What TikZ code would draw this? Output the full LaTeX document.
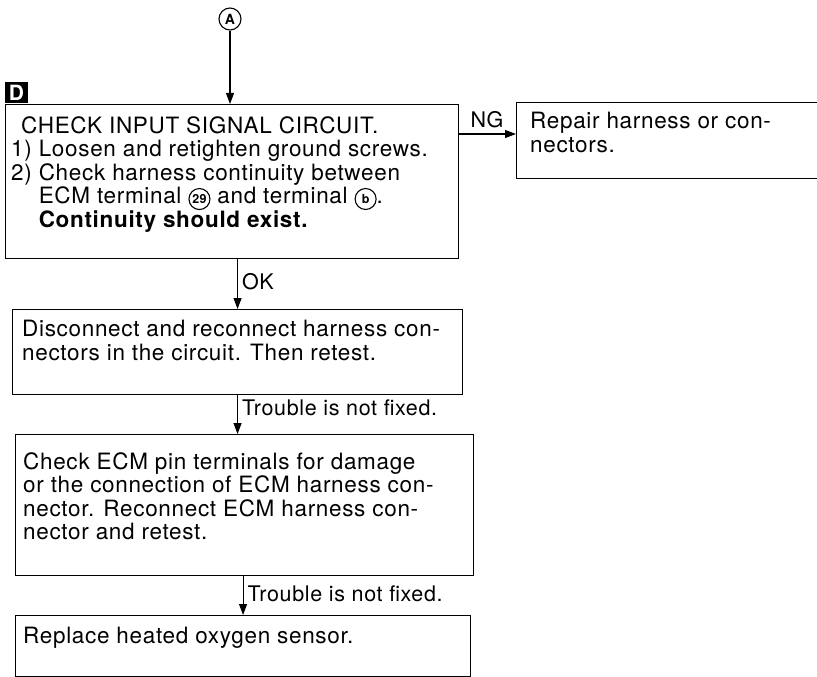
\documentclass[tikz,border=0pt]{standalone}
\usepackage{fontspec}
\setmainfont{TeX Gyre Heros}[LetterSpace=3]
\usetikzlibrary{arrows.meta,positioning}
\tikzset{
    every node/.append style={align=left},
    box/.style={rectangle,draw=black,line width=1.1pt,anchor=north west,inner sep=0pt},
    txt/.style={font=\fontsize{22.5}{23.5}\selectfont,inner sep=0pt},
    arr/.style={-{Triangle[length=11pt,width=8pt]},line width=1.1pt},
    lbl/.style={font=\fontsize{21.5}{23}\selectfont,inner sep=0pt,anchor=west,xshift=4pt},
    badge/.style={fill=black,text=white,minimum width=23pt,minimum height=21pt,inner sep=0pt,
        font=\fontsize{21}{21}\selectfont\bfseries},
    ring/.style={circle,draw,line width=1.1pt,inner sep=0pt,font=\fontsize{14}{14}\selectfont\bfseries}
}
\newcommand{\cnum}[1]{\tikz[baseline=(cn.base)]\node[ring,minimum size=21pt,font=\fontsize{12.5}{12.5}\selectfont\bfseries] (cn) {#1};}

\begin{document}
\begin{tikzpicture}[x=1pt,y=-1pt]
    \useasboundingbox (0,0) rectangle (817,677);

    \node[ring,minimum size=22pt] (A) at (230,19) {A};
    \node[badge] (D) at (16.5,92.5) {D};

    % boxes
    \node[box,minimum width=453pt,minimum height=154pt] (chk) at (5,104) {};
    \node[box,minimum width=320pt,minimum height=76pt] (fix) at (516,102) {};
    \node[box,minimum width=450pt,minimum height=85pt] (recon) at (12,309) {};
    \node[box,minimum width=458pt,minimum height=141pt] (ecm) at (15,434) {};
    \node[box,minimum width=455pt,minimum height=61pt] (sensor) at (15,615) {};

    % texts
    \node[txt,below right=12pt and 6pt of chk.north west] (chktxt)
        {\hspace*{10pt}CHECK INPUT SIGNAL CIRCUIT.\\
         1) Loosen and retighten ground screws.\\
         2) Check harness continuity between\\
         \phantom{2) }ECM terminal \cnum{29} and terminal \cnum{b}.\\
         \phantom{2) }\textbf{Continuity should exist.}};
    \node[txt,below right=10pt and 14pt of fix.north west] (fixtxt)
        {Repair harness or con-\\nectors.};
    \node[txt,below right=11pt and 10pt of recon.north west] (recontxt)
        {Disconnect and reconnect harness con-\\nectors in the circuit. Then retest.};
    \node[txt,below right=18pt and 8pt of ecm.north west] (ecmtxt)
        {Check ECM pin terminals for damage\\
         or the connection of ECM harness con-\\
         nector. Reconnect ECM harness con-\\
         nector and retest.};
    \node[txt,below right=12pt and 8pt of sensor.north west] (sensortxt)
        {Replace heated oxygen sensor.};

    % connectors
    \draw[arr] (A) -- (A |- chk.north);
    \draw[arr] ([yshift=-30pt]chk.north east) -- node[lbl,pos=0.42,anchor=south,xshift=0pt,yshift=6pt] (ng) {NG}
        ([yshift=-30pt]chk.north east -| fix.west);
    \draw[arr] (recon.north |- chk.south) -- node[lbl,pos=0.45] (ok) {OK} (recon.north);
    \draw[arr] (recon.south) -- node[lbl,pos=0.33] (nf1) {Trouble is not fixed.} (recon.south |- ecm.north);
    \draw[arr] (sensor.north |- ecm.south) -- node[lbl,pos=0.45] (nf2) {Trouble is not fixed.} (sensor.north);
\end{tikzpicture}
\end{document}
